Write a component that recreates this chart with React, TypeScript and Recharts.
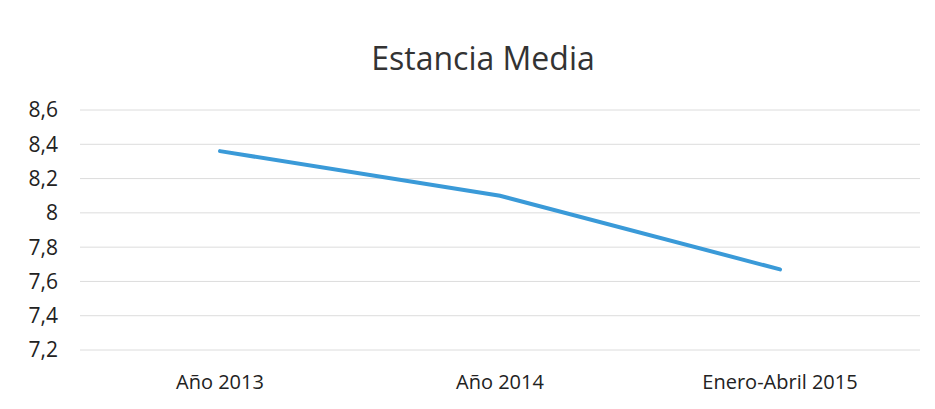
import React from 'react';
import { LineChart, Line, XAxis, YAxis, CartesianGrid } from 'recharts';

const periods = ['Año 2013', 'Año 2014', 'Enero-Abril 2015'];
const stayValues = [8.36, 8.1, 7.67];
const yTicks = [7.2, 7.4, 7.6, 7.8, 8, 8.2, 8.4, 8.6];

const data = periods.map((p, i) => ({ period: p, value: stayValues[i] }));

const fmt = (v: number) => Number(v.toFixed(1)).toString().replace('.', ',');

const font = '"Open Sans", "Noto Sans", sans-serif';

export default function App() {
  return (
    <div style={{ position: 'absolute', top: 0, left: 0, width: 935, height: 409, background: '#fff', fontFamily: font }}>
      <div style={{
        position: 'absolute', top: 36, left: 0, width: 966, textAlign: 'center',
        fontSize: 32, color: '#333', fontFamily: font, lineHeight: '44px'
      }}>
        Estancia Media
      </div>
      <LineChart width={935} height={409} data={data} margin={{ top: 110, right: 15, left: 10, bottom: 19 }}>
        <CartesianGrid vertical={false} stroke="#dcdcdc" />
        <XAxis
          dataKey="period"
          axisLine={false}
          tickLine={false}
          tickSize={0}
          tickMargin={25}
          height={40}
          padding={{ left: 140, right: 140 }}
          tick={{ fontSize: 20, fill: '#222', fontFamily: font }}
        />
        <YAxis
          domain={[7.2, 8.6]}
          ticks={yTicks}
          tickFormatter={fmt}
          axisLine={false}
          tickLine={false}
          tickSize={0}
          tickMargin={22}
          width={70}
          tick={{ fontSize: 21, fill: '#222', fontFamily: font }}
        />
        <Line
          type="linear"
          dataKey="value"
          stroke="#3a9ad8"
          strokeWidth={4}
          strokeLinecap="round"
          dot={false}
          isAnimationActive={false}
        />
      </LineChart>
    </div>
  );
}
